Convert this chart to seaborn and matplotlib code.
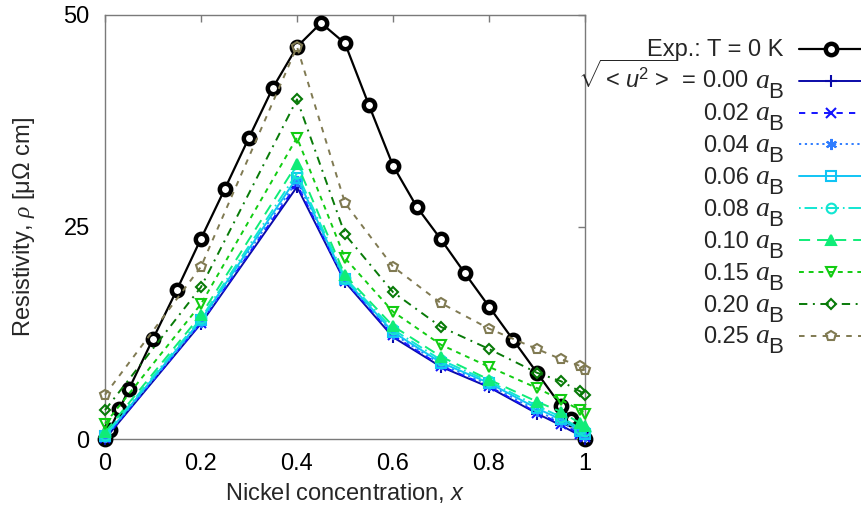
import matplotlib
matplotlib.use('Agg')
import matplotlib.pyplot as plt
import seaborn as sns
import pandas as pd

# ---- data ----
exp_x = [0.0, 0.01, 0.03, 0.05, 0.10, 0.15, 0.20, 0.25, 0.30, 0.35, 0.40, 0.45,
         0.50, 0.55, 0.60, 0.65, 0.70, 0.75, 0.80, 0.85, 0.90, 0.95, 0.97, 1.0]
exp_y = [0.0, 1.1, 3.5, 5.9, 11.8, 17.6, 23.6, 29.5, 35.5, 41.4, 46.2, 49.0,
         46.6, 39.3, 32.2, 27.3, 23.5, 19.5, 15.6, 11.7, 7.8, 3.9, 2.4, 0.0]

calc_x = [0.0, 0.2, 0.4, 0.5, 0.6, 0.7, 0.8, 0.9, 0.95, 0.99, 1.0]
u_000 = [0.0, 13.6, 29.7, 18.5, 12.0, 8.5, 6.1, 3.0, 1.6, 0.4, 0.0]
u_002 = [0.1, 13.7, 30.0, 18.6, 12.2, 8.6, 6.2, 3.1, 1.8, 0.6, 0.2]
u_004 = [0.2, 13.8, 30.4, 18.7, 12.4, 8.8, 6.4, 3.3, 2.0, 0.8, 0.4]
u_006 = [0.3, 14.0, 30.8, 18.8, 12.6, 9.0, 6.6, 3.6, 2.3, 1.0, 0.6]
u_008 = [0.5, 14.2, 31.3, 19.0, 12.9, 9.3, 6.8, 3.9, 2.6, 1.2, 0.9]
u_010 = [0.8, 14.6, 32.4, 19.3, 13.3, 9.7, 7.0, 4.4, 3.2, 1.85, 1.5]
u_015 = [1.8, 15.9, 35.5, 21.3, 15.0, 11.1, 8.5, 6.0, 4.6, 3.4, 3.0]
u_020 = [3.4, 17.9, 40.0, 24.1, 17.3, 13.2, 10.6, 7.8, 6.8, 5.6, 5.2]
u_025 = [5.2, 20.3, 46.2, 27.8, 20.3, 16.0, 13.0, 10.6, 9.4, 8.6, 8.1]

u_labels = ['0.00', '0.02', '0.04', '0.06', '0.08', '0.10', '0.15', '0.20', '0.25']
u_series = [u_000, u_002, u_004, u_006, u_008, u_010, u_015, u_020, u_025]
exp_label = 'Exp.: T = 0 K'

x_ticks = [0, 0.2, 0.4, 0.6, 0.8, 1.0]
x_ticklabels = ['0', '0.2', '0.4', '0.6', '0.8', '1']
y_ticks = [0, 25, 50]
y_ticklabels = ['0', '25', '50']

# ---- styles ----
colors = ['#0a0aa8', '#1414ff', '#2f7dff', '#10c4f4', '#12e6d2',
          '#10ec78', '#12cc12', '#087a08', '#807a52']
markers = ['+', 'x', (6, 2, 0), 's', 'o', '^', 'v', 'D', 'p']
dashes = [None, (4.5, 4.5), (1.6, 2.6), None, (1.2, 2.8, 9, 2.8),
          (8, 5), (3.5, 3.5), (6, 4, 1.4, 4), (4, 4.5)]
msizes = [8, 7, 8, 6.5, 7, 7, 7, 5.5, 7.5]
mfcs = ['none', 'none', 'none', 'none', 'none', None, 'none', 'none', 'none']

sns.set_style('white')
plt.rcParams['font.family'] = ['Liberation Sans', 'DejaVu Sans']
plt.rcParams['mathtext.fontset'] = 'custom'
plt.rcParams['mathtext.rm'] = 'Liberation Sans'
plt.rcParams['mathtext.it'] = 'Liberation Serif:italic'
plt.rcParams['mathtext.sf'] = 'Liberation Sans:italic'
plt.rcParams['lines.scale_dashes'] = False

W, H = 862, 520
fig = plt.figure(figsize=(W / 100, H / 100), dpi=100)
ax = fig.add_axes([105 / W, 1 - 439 / H, 480 / W, (439 - 14.5) / H])

handles = []

df_exp = pd.DataFrame({'x': exp_x, 'y': exp_y})
sns.lineplot(data=df_exp, x='x', y='y', ax=ax, color='black', lw=1.6,
             marker='o', ms=8.2, mew=3.2, mfc='white', mec='black', clip_on=False,
             label=exp_label, zorder=3)
handles.append(ax.lines[-1])

for i, (lab, vals) in enumerate(zip(u_labels, u_series)):
    df = pd.DataFrame({'x': calc_x, 'y': vals})
    kw = dict(color=colors[i], lw=1.4, marker=markers[i], ms=msizes[i], mew=1.5,
              mec=colors[i], clip_on=False, zorder=4)
    if mfcs[i] is not None:
        kw['mfc'] = mfcs[i]
    sns.lineplot(data=df, x='x', y='y', ax=ax, label=lab, **kw)
    ln = ax.lines[-1]
    if dashes[i] is not None:
        ln.set_dashes(dashes[i])
    handles.append(ln)

if ax.get_legend() is not None:
    ax.get_legend().remove()

ax.set_xlim(0, 1)
ax.set_ylim(0, 50)
ax.set_xticks(x_ticks)
ax.set_xticklabels(x_ticklabels)
ax.set_yticks(y_ticks)
ax.set_yticklabels(y_ticklabels)
ax.tick_params(direction='in', length=5, width=1, color='#7a7a7a',
               top=True, right=True, labelsize=17, labelcolor='black')
ax.tick_params(axis='x', pad=10)
ax.tick_params(axis='y', pad=11)
for s in ax.spines.values():
    s.set_color('#7a7a7a')
    s.set_linewidth(1.0)

ax.set_xlabel(r'Nickel concentration, $\mathsf{x}$', fontsize=17)
ax.set_ylabel('Resistivity, $\\rho$ [μΩ cm]', fontsize=17)
ax.xaxis.set_label_coords(0.5, -0.1)
ax.yaxis.set_label_coords(-0.142, 0.5)

# legend: handles on the right; labels right-aligned to their left
leg = fig.legend(handles, [''] * len(handles), loc='upper right',
                 bbox_to_anchor=(1.0, 1 - 40 / H), bbox_transform=fig.transFigure,
                 frameon=False, handlelength=2.65, handletextpad=0.0,
                 labelspacing=0.42, borderpad=0, borderaxespad=0,
                 fontsize=17, numpoints=1)
fig.canvas.draw()
r = fig.canvas.get_renderer()
x_right = 783
for k, h in enumerate(leg.get_lines()):
    bb = h.get_window_extent(r)
    yc = (bb.y0 + bb.y1) / 2
    base = yc - 7.5
    if k == 0:
        fig.text(x_right / W, base / H, exp_label, ha='right', va='baseline',
                 fontsize=17)
        continue
    lab = u_labels[k - 1]
    tB = fig.text(x_right / W, (base - 10) / H, 'B', ha='right', va='baseline',
                  fontsize=16)
    xb = tB.get_window_extent(r).x0
    ta = fig.text((xb + 0.5) / W, base / H, 'a', ha='right', va='baseline',
                  fontsize=20, family='Liberation Serif', style='italic')
    xa = ta.get_window_extent(r).x0
    if k == 1:
        main = r'$\sqrt{{<}\,\mathsf{u}^2\,{>}}$ = ' + lab
    else:
        main = lab
    fig.text((xa - 6) / W, base / H, main, ha='right', va='baseline',
             fontsize=17)

fig.savefig('out.png', dpi=100)
